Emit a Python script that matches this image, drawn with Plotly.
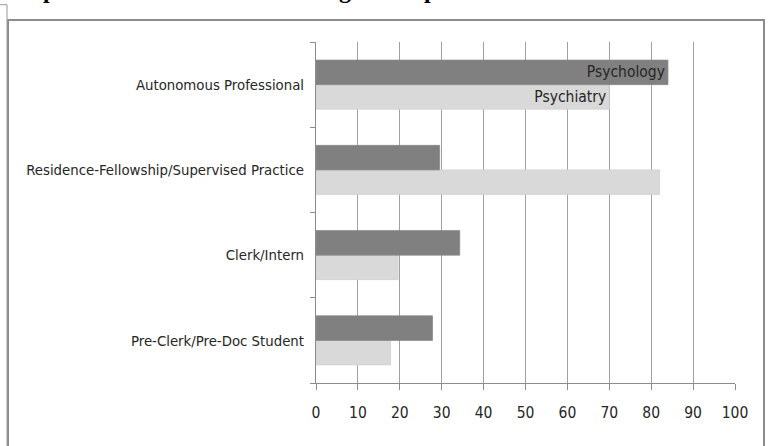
import plotly.graph_objects as go

# ---- data ----
categories = ["Pre-Clerk/Pre-Doc Student", "Clerk/Intern",
              "Residence-Fellowship/Supervised Practice", "Autonomous Professional"]
psychiatry = [17.8, 19.6, 82.0, 70.0]
psychology = [27.8, 34.3, 29.5, 84.0]
psychiatry_labels = ["", "", "", "Psychiatry"]
psychology_labels = ["", "", "", "Psychology"]
x_ticks = [0, 10, 20, 30, 40, 50, 60, 70, 80, 90, 100]
grid_ticks = [10, 20, 30, 40, 50, 60, 70, 80, 90]

W, H = 768, 446
L, R, T, B = 316, 33, 42, 63
PW, PH = W - L - R, H - T - B

def px(xp):
    return (xp - L) / PW

def py(yp):
    return (H - B - yp) / PH

FONT = "DejaVu Sans Condensed, DejaVu Sans, sans-serif"
TXT = "#262626"

fig = go.Figure()
fig.add_trace(go.Bar(
    y=categories, x=psychiatry, orientation="h", name="Psychiatry",
    marker=dict(color="#d9d9d9", line=dict(color="#d0d0d0", width=0.8)),
    text=psychiatry_labels, textposition="inside", insidetextanchor="end",
    textfont=dict(family=FONT, size=15.5, color=TXT), constraintext="none",
    textangle=0, cliponaxis=False,
))
fig.add_trace(go.Bar(
    y=categories, x=psychology, orientation="h", name="Psychology",
    marker=dict(color="#808080", line=dict(color="#8a8a8a", width=0.8)),
    text=psychology_labels, textposition="inside", insidetextanchor="end",
    textfont=dict(family=FONT, size=15.5, color=TXT), constraintext="none",
    textangle=0, cliponaxis=False,
))
fig.add_trace(go.Scatter(x=[0, 100], y=[categories[0], categories[0]], xaxis="x2",
                         mode="none", showlegend=False, hoverinfo="skip"))

fig.update_layout(
    width=W, height=H,
    margin=dict(l=L, r=R, t=T, b=B, autoexpand=False),
    paper_bgcolor="white", plot_bgcolor="white",
    barmode="group", bargap=0.425, bargroupgap=0,
    showlegend=False,
    font=dict(family=FONT, color=TXT),
    xaxis=dict(
        range=[0, 100], tickvals=x_ticks, showgrid=False, zeroline=False,
        showline=True, linecolor="#8c8c8c", linewidth=1, automargin=False,
        ticks="outside", ticklen=6, tickcolor="#8c8c8c", tickwidth=1,
        tickfont=dict(family=FONT, size=15.5, color=TXT), ticklabelstandoff=9,
    ),
    xaxis2=dict(
        range=[0, 100], overlaying="x", tickvals=grid_ticks, showgrid=True,
        gridcolor="#a0a0a0", gridwidth=1, showticklabels=False, zeroline=False,
        showline=False, ticks="", automargin=False,
    ),
    yaxis=dict(
        categoryorder="array", categoryarray=categories, automargin=False,
        showgrid=False, zeroline=False, showline=True, linecolor="#8c8c8c", linewidth=1,
        ticks="outside", ticklen=5, tickcolor="#8c8c8c", tickson="boundaries",
        tickfont=dict(family=FONT, size=14.8, color=TXT), ticklabelstandoff=8,
    ),
)

# chart frame (chart-area border) and page bracket
fig.add_shape(type="rect", xref="paper", yref="paper",
              x0=px(8), x1=px(764), y0=py(470), y1=py(20),
              line=dict(color="#8c8c8c", width=2), layer="below")
fig.add_shape(type="path", xref="paper", yref="paper",
              path=f"M {px(0)} {py(4.7)} L {px(7)} {py(4.7)} L {px(7)} {py(470)}",
              line=dict(color="#9a9a9a", width=1))

# cut-off bold title (only descenders visible at the top edge)
for ch, xp in [("p", 49), ("g", 345), ("p", 430)]:
    fig.add_annotation(text=ch, x=px(xp), y=py(-10), xref="paper", yref="paper",
                       xanchor="center", yanchor="middle", showarrow=False,
                       font=dict(family="Liberation Serif", size=24, color="black",
                                 weight="bold"))

fig.write_html("out.html")
